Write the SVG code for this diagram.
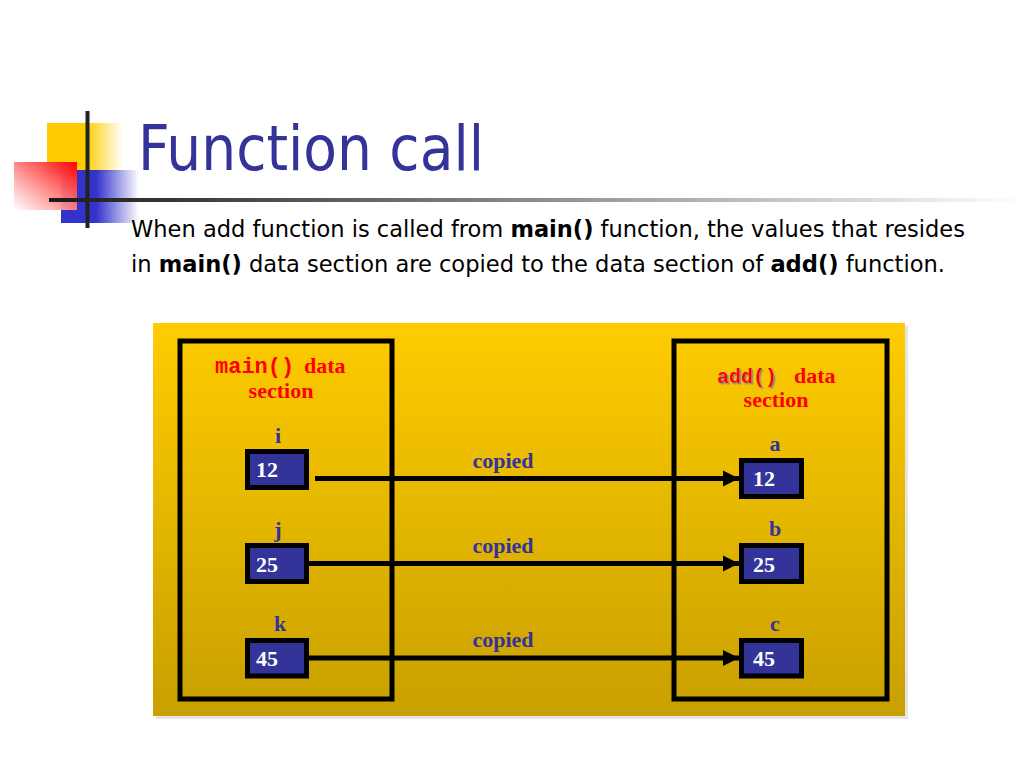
<svg xmlns="http://www.w3.org/2000/svg" width="1024" height="768" viewBox="0 0 1024 768">
<defs>
<style>
.lbl{font-family:"Liberation Serif","Times New Roman",serif;font-weight:bold;font-size:22px;fill:#333399;text-anchor:middle}
.val{font-family:"Liberation Serif","Times New Roman",serif;font-weight:bold;font-size:22px;fill:#ffffff}
.red{font-family:"Liberation Serif","Times New Roman",serif;font-weight:bold;font-size:22px;fill:#ff0000}
.mono{font-family:"Liberation Mono","Courier New",monospace;font-weight:bold;fill:#ff0000}
.box{fill:none;stroke:#000;stroke-width:5}
.cell{fill:#333399;stroke:#000;stroke-width:5}
.conn{stroke:#000;stroke-width:5;fill:none}
.body{font-family:"DejaVu Sans Condensed","DejaVu Sans",Tahoma,sans-serif;font-size:23.5px;fill:#000}
</style>
<linearGradient id="panel" x1="0" y1="0" x2="0" y2="1">
<stop offset="0" stop-color="#FFCC00"/>
<stop offset="1" stop-color="#C8A000"/>
</linearGradient>
<linearGradient id="yel" x1="0" y1="0" x2="1" y2="0">
<stop offset="0" stop-color="#FFCC00"/>
<stop offset="0.5" stop-color="#FFCC00"/>
<stop offset="1" stop-color="#FFCC00" stop-opacity="0"/>
</linearGradient>
<linearGradient id="blu" x1="0" y1="0" x2="1" y2="0">
<stop offset="0" stop-color="#3333CC"/>
<stop offset="0.45" stop-color="#3333CC"/>
<stop offset="1" stop-color="#3333CC" stop-opacity="0"/>
</linearGradient>
<linearGradient id="rd" x1="1" y1="0" x2="0" y2="1">
<stop offset="0" stop-color="#FF0000"/>
<stop offset="1" stop-color="#FFFFFF" stop-opacity="0.9"/>
</linearGradient>
<linearGradient id="hl" x1="0" y1="0" x2="1" y2="0">
<stop offset="0" stop-color="#1a1a1a"/>
<stop offset="1" stop-color="#ffffff"/>
</linearGradient>
<marker id="arr" viewBox="0 0 10 10" refX="10" refY="5" markerWidth="3.2" markerHeight="3.4" markerUnits="strokeWidth" orient="auto">
<path d="M0,0 L10,5 L0,10 z" fill="#000"/>
</marker>
<filter id="sh" x="-10%" y="-10%" width="130%" height="140%">
<feDropShadow dx="1.5" dy="1.5" stdDeviation="0.4" flood-color="#888888"/>
</filter>
</defs>
<rect width="1024" height="768" fill="#ffffff"/>

<g id="decoration">
<rect x="47" y="123" width="76" height="49" fill="url(#yel)"/>
<rect x="61" y="170" width="78" height="53" fill="url(#blu)"/>
<rect x="14" y="162" width="63" height="48" fill="url(#rd)"/>
<rect x="85.5" y="111" width="4" height="117" fill="#222"/>
<rect x="49" y="198" width="975" height="4" fill="url(#hl)"/>
</g>

<text id="title" x="138" y="170" font-family="'DejaVu Sans Condensed','DejaVu Sans',Tahoma,sans-serif" font-size="63" fill="#333399" textLength="346" lengthAdjust="spacingAndGlyphs">Function call</text>

<text class="body" x="131" y="237" textLength="834" lengthAdjust="spacingAndGlyphs">When add function is called from <tspan font-weight="bold">main()</tspan> function, the values that resides</text>
<text class="body" x="131" y="272" textLength="814" lengthAdjust="spacingAndGlyphs">in <tspan font-weight="bold">main()</tspan> data section are copied to the data section of <tspan font-weight="bold">add()</tspan> function.</text>

<rect x="156" y="326" width="752" height="393" fill="#cccccc" opacity="0.5"/>
<rect id="panel" x="153" y="323" width="752" height="393" fill="url(#panel)"/>

<g id="main-section">
<rect class="box" x="180" y="341" width="212" height="358"/>
<text class="mono" x="215" y="373" font-size="22">main()</text>
<text class="red" x="304" y="373">data</text>
<text class="red" x="281" y="398" text-anchor="middle">section</text>
</g>

<g id="add-section">
<rect class="box" x="674" y="341" width="213" height="358"/>
<text class="mono" x="717" y="383" font-size="20" filter="url(#sh)">add()</text>
<text class="red" x="794" y="383">data</text>
<text class="red" x="776" y="407" text-anchor="middle">section</text>
</g>

<g id="var-i">
<text class="lbl" x="278" y="443">i</text>
<rect class="cell" x="247.5" y="451.5" width="59" height="36"/>
<text class="val" x="256" y="477">12</text>
</g>
<g id="var-j">
<text class="lbl" x="278" y="537">j</text>
<rect class="cell" x="247.5" y="545.5" width="59" height="36"/>
<text class="val" x="256" y="572">25</text>
</g>
<g id="var-k">
<text class="lbl" x="280" y="631">k</text>
<rect class="cell" x="247.5" y="640.5" width="59" height="35.5"/>
<text class="val" x="256" y="666">45</text>
</g>

<g id="var-a">
<text class="lbl" x="775" y="451">a</text>
<rect class="cell" x="741.5" y="460.5" width="60" height="36"/>
<text class="val" x="753" y="486">12</text>
</g>
<g id="var-b">
<text class="lbl" x="775" y="536">b</text>
<rect class="cell" x="741.5" y="545.5" width="60" height="36"/>
<text class="val" x="753" y="572">25</text>
</g>
<g id="var-c">
<text class="lbl" x="775" y="631">c</text>
<rect class="cell" x="741.5" y="640.5" width="60" height="35.5"/>
<text class="val" x="753" y="666">45</text>
</g>

<g id="connectors">
<line class="conn" x1="315" y1="478.5" x2="739" y2="478.5" marker-end="url(#arr)"/>
<line class="conn" x1="309" y1="563.5" x2="739" y2="563.5" marker-end="url(#arr)"/>
<line class="conn" x1="309" y1="658" x2="739" y2="658" marker-end="url(#arr)"/>
<text class="lbl" x="503" y="468">copied</text>
<text class="lbl" x="503" y="553">copied</text>
<text class="lbl" x="503" y="647">copied</text>
</g>
</svg>
